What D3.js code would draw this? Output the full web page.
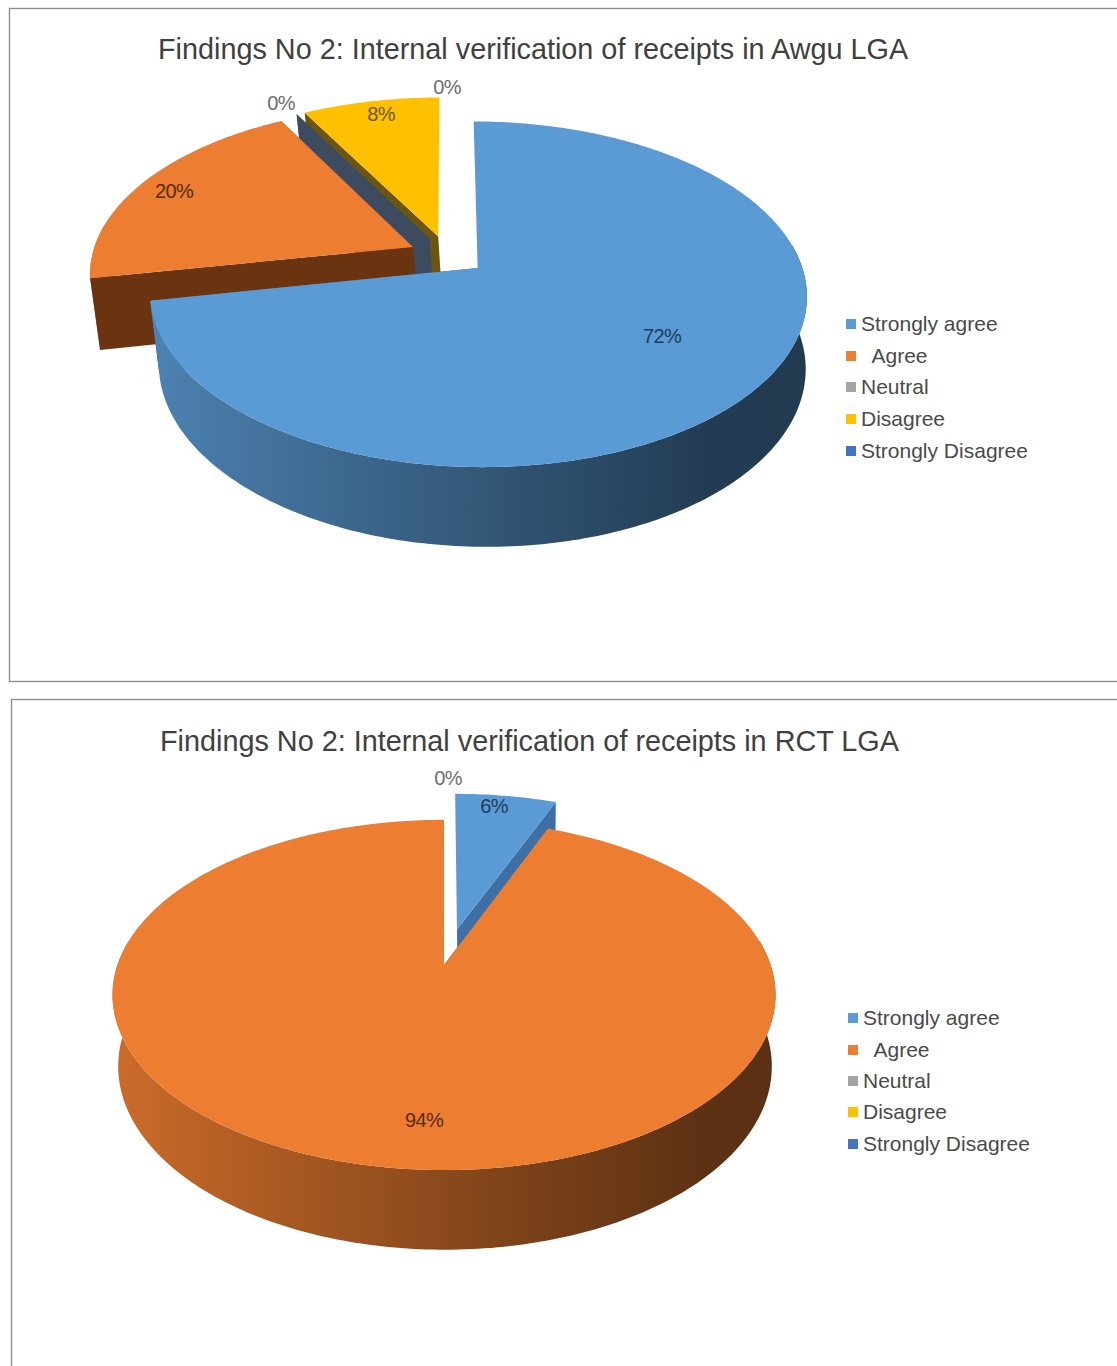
<!DOCTYPE html>
<html>
<head>
<meta charset="utf-8">
<script src="https://cdn.jsdelivr.net/npm/d3@7"></script>
<style>
  html, body { margin: 0; padding: 0; background: #fff; overflow: hidden; }
  text { font-family: "Liberation Sans", Arial, sans-serif; white-space: pre; }
</style>
</head>
<body>
<script>
// Survey responses, one value per category, in percent.
const categories = ["Strongly agree", "  Agree", "Neutral", "Disagree", "Strongly Disagree"];
const awguValues = [72, 20, 0, 8, 0];
const rctValues = [6, 94, 0, 0, 0];
const awguTitle = "Findings No 2: Internal verification of receipts in Awgu LGA";
const rctTitle = "Findings No 2: Internal verification of receipts in RCT LGA";

// How far each slice is pulled out of the pie, as a share of its radius.
const awguExplode = [0.12, 0.12, 0.12, 0.12, 0.12];
const rctExplode = [0.22, 0, 0, 0, 0];

// Slice styling per category.
const sliceColors = ["#5b9bd5", "#ed7d31", "#a5a5a5", "#ffc000", "#4472c4"];
const faceColors = ["#3e70a8", "#6b3410", "#3d4b60", "#6b5510", "#2c4a80"];
const labelColors = ["#1d3c5e", "#5a2a0a", "#6e6e6e", "#6b5510", "#6e6e6e"];

// Layout of the two panels. top/base describe the projection of the
// upper and lower discs; label anchors are in page pixels.
const panels = [
  {
    id: "awgu", title: awguTitle, values: awguValues, explode: awguExplode,
    frame: { x: 9.5, y: 8.5, w: 1200, h: 673 },
    titleAt: [158, 59],
    persp: 0.15,
    top: { x: 447.6, y: 255.3, bx: 321, by: 165 },
    base: { x: 452, y: 326, bx: 316, by: 172 },
    legend: { swatch: 846, text: 861, rows: [324, 356, 387, 419, 451] },
    labels: [[662, 336, 0], [174, 191, 1], [281, 103, 2], [381, 114, 3], [447, 87, 4]]
  },
  {
    id: "rct", title: rctTitle, values: rctValues, explode: rctExplode,
    frame: { x: 11.5, y: 699.5, w: 1200, h: 800 },
    titleAt: [160, 751],
    persp: 0.171,
    top: { x: 444, y: 965, bx: 326.6, by: 170 },
    base: { x: 445, y: 1035, bx: 322, by: 178 },
    legend: { swatch: 848, text: 863, rows: [1018, 1050, 1081, 1112, 1144] },
    labels: [[494, 806, 0], [424, 1120, 1], [448, 778, 2]]
  }
];

// Shade applied to the outer wall of the pie, from its left edge to its right.
const wallShade = d3.scaleLinear()
  .domain([0, 0.25, 0.6, 0.85, 1])
  .range([0.88, 0.72, 0.52, 0.39, 0.38]);

const svg = d3.select("body").append("svg")
  .attr("width", 1117).attr("height", 1366)
  .style("display", "block");
const defs = svg.append("defs");
const line = d3.line();
const pie = d3.pie().sort(null).value(d => d);

function shaded(hex, k) {
  const c = d3.rgb(hex);
  return d3.rgb(c.r * k, c.g * k, c.b * k).formatHex();
}

panels.forEach(panel => {
  const g = svg.append("g").attr("id", panel.id);

  g.append("rect")
    .attr("x", panel.frame.x).attr("y", panel.frame.y)
    .attr("width", panel.frame.w).attr("height", panel.frame.h)
    .attr("fill", "#fff").attr("stroke", "#8f8f8f").attr("stroke-width", 1.4);

  g.append("text")
    .attr("x", panel.titleAt[0]).attr("y", panel.titleAt[1])
    .attr("font-size", 28.8).attr("fill", "#404040")
    .text(panel.title);

  // Perspective projection of a point on a disc: far points shrink.
  const project = (disc, u, v) => {
    const w = 1 + panel.persp * v;
    return [disc.x + disc.bx * u / w, disc.y - disc.by * v / w];
  };

  const arcs = pie(panel.values);

  // Wall gradients, spanning the full width of the lower disc.
  const x0 = project(panel.base, -1.1, 0)[0];
  const x1 = project(panel.base, 1.15, 0)[0];
  sliceColors.forEach((color, i) => {
    const grad = defs.append("linearGradient")
      .attr("id", `${panel.id}-wall-${i}`)
      .attr("gradientUnits", "userSpaceOnUse")
      .attr("x1", x0).attr("x2", x1).attr("y1", 0).attr("y2", 0);
    wallShade.domain().forEach(t => {
      grad.append("stop").attr("offset", t).attr("stop-color", shaded(color, wallShade(t)));
    });
  });

  // Paint slices far to near so the nearer ones overlap the ones behind.
  const depthOrder = arcs
    .map((a, i) => ({ a, i, mid: (a.startAngle + a.endAngle) / 2 }))
    .sort((p, q) => Math.cos(q.mid) * panel.explode[q.i] - Math.cos(p.mid) * panel.explode[p.i]
      || Math.cos(q.mid) - Math.cos(p.mid));

  depthOrder.forEach(({ a, i, mid }) => {
    const dx = panel.explode[i] * Math.sin(mid);
    const dy = panel.explode[i] * Math.cos(mid);
    const hasArea = a.endAngle > a.startAngle;
    const rimSteps = d3.range(0, 1.0001, 1 / Math.max(1, Math.ceil((a.endAngle - a.startAngle) * 60)))
      .map(t => a.startAngle + t * (a.endAngle - a.startAngle));
    const rim = (disc, angles = rimSteps) => angles.map(th => project(disc, dx + Math.sin(th), dy + Math.cos(th)));
    const topRim = rim(panel.top);
    const baseRim = rim(panel.base);
    const topApex = project(panel.top, dx, dy);
    const baseApex = project(panel.base, dx, dy);
    const s = g.append("g").attr("class", "slice");

    // Only the near part of the rim shows a wall; the far part is behind the lid.
    const nearSteps = rimSteps.filter(th => Math.cos(th) < 0.15);
    const drawOuterWall = () => {
      if (!nearSteps.length) return;
      s.append("path")
        .attr("d", line(rim(panel.top, nearSteps).concat(rim(panel.base, nearSteps).reverse())) + "Z")
        .attr("fill", `url(#${panel.id}-wall-${i})`);
    };

    const drawCutFaces = () => {
      [[topRim[0], baseRim[0], a.startAngle],
       [topRim[topRim.length - 1], baseRim[baseRim.length - 1], a.endAngle]].forEach(([t, b, angle]) => {
        // A face lying on the 12 o'clock seam is seen edge-on and has no width.
        if (Math.abs(Math.sin(angle)) < 0.01) return;
        s.append("path")
          .attr("d", line([topApex, t, b, baseApex]) + "Z")
          .attr("fill", faceColors[i]);
      });
    };

    // The wall of a slice facing the viewer sits in front of its cut faces;
    // for a slice facing away it sits behind them.
    const facesViewer = Math.cos(mid) < 0;
    if (hasArea && !facesViewer) drawOuterWall();
    drawCutFaces();
    if (hasArea && facesViewer) drawOuterWall();
    if (hasArea) {
      s.append("path")
        .attr("d", line([topApex].concat(topRim)) + "Z")
        .attr("fill", sliceColors[i]);
    }
  });

  // Data labels.
  panel.labels.forEach(([x, y, i]) => {
    g.append("text")
      .attr("x", x).attr("y", y)
      .attr("text-anchor", "middle").attr("dominant-baseline", "central")
      .attr("font-size", 20).attr("letter-spacing", -0.6)
      .attr("fill", labelColors[i])
      .text(`${panel.values[i]}%`);
  });

  // Legend.
  categories.forEach((name, i) => {
    const y = panel.legend.rows[i];
    g.append("rect")
      .attr("x", panel.legend.swatch).attr("y", y - 5)
      .attr("width", 10).attr("height", 10)
      .attr("fill", sliceColors[i]);
    g.append("text")
      .attr("x", panel.legend.text).attr("y", y - 1)
      .attr("dominant-baseline", "central")
      .attr("font-size", 21).attr("fill", "#4a4a4a")
      .attr("xml:space", "preserve")
      .text(name);
  });
});
</script>
</body>
</html>
